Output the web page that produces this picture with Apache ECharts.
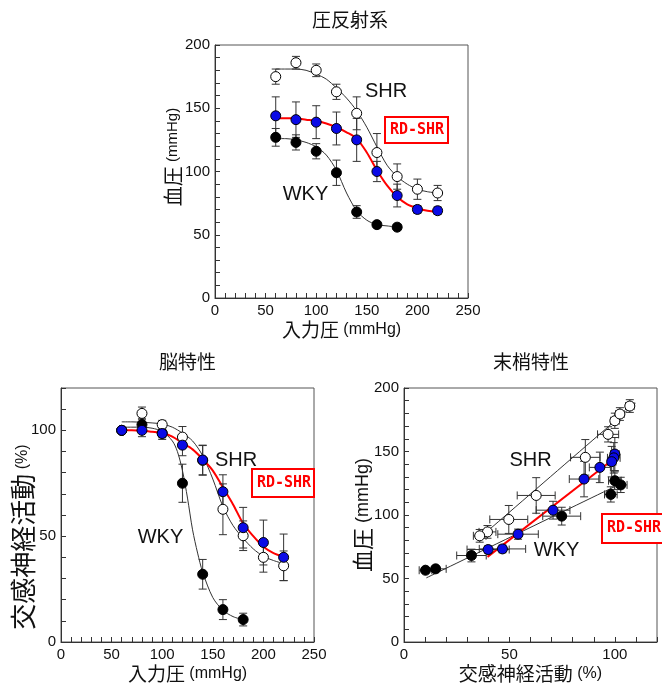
<!DOCTYPE html>
<html><head><meta charset="utf-8">
<script src="https://cdn.jsdelivr.net/npm/echarts@6/dist/echarts.min.js"></script>
<style>html,body{margin:0;padding:0;background:#fff}#main{width:662px;height:686px}</style>
</head><body><div id="main"></div>
<script>
// ---------- data ----------
const pressure = [60, 80, 100, 120, 140, 160, 180, 200, 220];
const pressureWKY = [60, 80, 100, 120, 140, 160, 180];
const pressureTicks = [0, 50, 100, 150, 200, 250];
const bpTicks = [0, 50, 100, 150, 200];
const snaTicks = [0, 50, 100];
const periTicks = [0, 50, 100];

// 圧反射系 (blood pressure vs input pressure)
const bpSHR = [175, 186, 180, 163, 146, 115, 96, 86, 83];
const bpSHRErr = [6, 5, 5, 6, 13, 15, 10, 8, 6];
const bpRD = [144, 141, 139, 134, 125, 100, 81, 70, 69];
const bpRDErr = [15, 14, 13, 13, 17, 8, 9, 3, 3];
const bpWKY = [127, 123, 116, 99, 68, 58, 56];
const bpWKYErr = [7, 6, 6, 10, 5, 2, 2];
const fitPressure = [60, 70, 80, 90, 100, 110, 120, 130, 140, 150, 160, 170, 180, 190, 200, 210, 220];
const bpFitSHR = [181, 181, 181, 180, 177, 173, 166, 158, 148, 135, 119.5, 105, 96, 90, 86, 84, 83];
const bpFitRD = [142, 142, 142, 141, 140, 138, 135, 131, 126, 115, 101, 89, 80, 74, 71, 69, 68];
const fitPressureWKY = [60, 70, 80, 90, 100, 110, 120, 130, 140, 150, 160, 170, 180];
const bpFitWKY = [126, 126, 125, 123, 119.5, 113, 101, 83, 69, 61.5, 58, 57, 56];

// 脳特性 (sympathetic activity vs input pressure)
const snaSHR = [100, 108, 102.7, 96.8, 85.8, 62.7, 50.2, 40, 36];
const snaSHRErr = [0, 3, 2, 5, 7, 12, 7, 7, 7];
const snaRD = [100, 100, 98.5, 93, 86, 71, 54, 47, 40];
const snaRDErr = [0, 3, 2, 5, 7, 8, 9.6, 10.6, 11];
const snaWKY = [100, 102.7, 98.7, 75, 32, 15.3, 10.6];
const snaWKYErr = [0, 3, 3, 9, 7, 4.7, 3];
const snaFitSHR = [104, 104, 103.8, 103.5, 103, 101.5, 98.7, 95, 88, 77, 64, 55, 49, 44, 40.5, 38.5, 37];
const snaFitRD = [100, 100, 99.8, 99.3, 98.7, 97, 94, 91, 86.4, 81, 73, 65, 56, 50, 45, 42, 40.3];
const fitPressureWKY2 = [60, 70, 80, 90, 100, 110, 115, 120, 125, 130, 135, 140, 150, 160, 170, 180];
const snaFitWKY = [101.5, 101.5, 101.5, 101, 99.5, 95, 90, 81, 68, 53, 42, 33, 21, 15, 12, 10.5];

// 末梢特性 (blood pressure vs sympathetic activity)
const periSHRsna = [100, 107.1, 102.4, 96.8, 86, 62.7, 49.7, 39.6, 35.9];
const periSHRbp = [174.2, 185.8, 179.5, 163.5, 145.4, 115.4, 96.5, 86.7, 83.6];
const periSHRsnaErr = [2, 2, 2, 5, 7, 9, 9, 4, 3];
const periSHRbpErr = [6, 5, 5, 6, 14, 14, 11, 5, 5];
const periRDsna = [100, 99.5, 98.5, 92.9, 85.4, 70.7, 54.1, 46.7, 39.9];
const periRDbp = [148, 145, 142, 137.5, 128.3, 103.8, 84.9, 73.3, 72.8];
const periRDsnaErr = [2, 3, 2, 5, 7, 8, 9.6, 11, 10];
const periRDbpErr = [13, 12, 12, 12, 14, 7, 4, 3, 3];
const periWKYsna = [100, 102.8, 98.1, 74.8, 32, 15, 10.2];
const periWKYbp = [127, 123.7, 116.2, 99.1, 68.1, 57.6, 56.5];
const periWKYsnaErr = [3, 3, 3, 9, 7, 5, 3];
const periWKYbpErr = [7, 6, 6, 7, 5, 2, 2];
const periFitSHRsna = [35.9, 109.8];
const periFitSHRbp = [82, 188];
const periFitRDsna = [39.6, 100.8];
const periFitRDbp = [67, 145.8];
const periFitWKYsna = [10.6, 103.2];
const periFitWKYbp = [50.5, 125];

// ---------- helpers ----------
const CJK = '"Noto Sans CJK JP", sans-serif';
const LAT = '"Liberation Sans", Arial, sans-serif';
const zip = (xs, ys) => xs.map((x, i) => [x, ys[i]]);
const zip4 = (xs, ys, xe, ye) => xs.map((x, i) => [x, ys[i], xe ? xe[i] : 0, ye ? ye[i] : 0]);

function axisCfg(gi, max, ticks, extra) {
  return Object.assign({
    type: 'value', gridIndex: gi, min: 0, max: max, interval: 10,
    axisLine: { show: true, lineStyle: { color: '#333', width: 1 } },
    axisTick: { show: true, inside: true, length: 5, lineStyle: { color: '#333' } },
    axisLabel: { show: true, margin: 5, fontSize: 15, fontFamily: LAT, color: '#111',
      formatter: v => ticks.includes(v) ? String(v) : '' },
    splitLine: { show: false }
  }, extra || {});
}
function xName(c, u) {
  return {
    name: '{c|' + c + '}{u|' + u + '}', nameLocation: 'middle', nameGap: 22,
    nameTextStyle: { rich: {
      c: { fontSize: 19, fontFamily: CJK, color: '#111' },
      u: { fontSize: 16, fontFamily: LAT, color: '#111' } } }
  };
}
function fitLine(gi, xs, ys, color, width) {
  return { type: 'line', xAxisIndex: gi, yAxisIndex: gi, data: zip(xs, ys), symbol: 'none',
    smooth: 0.3, z: 2, silent: true,
    lineStyle: { color: color, width: width } };
}
function dots(gi, xs, ys, fill) {
  return { type: 'scatter', xAxisIndex: gi, yAxisIndex: gi, data: zip(xs, ys), symbol: 'circle',
    symbolSize: 10, z: 5, silent: true,
    itemStyle: { color: fill, borderColor: '#000', borderWidth: 1, opacity: 1 } };
}
function errBars(gi, pts) {
  return { type: 'custom', xAxisIndex: gi, yAxisIndex: gi, z: 3, silent: true, data: pts,
    renderItem: function (params, api) {
      const x = api.value(0), y = api.value(1), xe = api.value(2), ye = api.value(3);
      const st = { stroke: '#333', lineWidth: 1 };
      const cap = 4, ch = [];
      if (ye > 0) {
        const a = api.coord([x, y - ye]), b = api.coord([x, y + ye]);
        ch.push({ type: 'line', shape: { x1: a[0], y1: a[1], x2: b[0], y2: b[1] }, style: st });
        ch.push({ type: 'line', shape: { x1: a[0] - cap, y1: a[1], x2: a[0] + cap, y2: a[1] }, style: st });
        ch.push({ type: 'line', shape: { x1: b[0] - cap, y1: b[1], x2: b[0] + cap, y2: b[1] }, style: st });
      }
      if (xe > 0) {
        const a = api.coord([x - xe, y]), b = api.coord([x + xe, y]);
        ch.push({ type: 'line', shape: { x1: a[0], y1: a[1], x2: b[0], y2: b[1] }, style: st });
        ch.push({ type: 'line', shape: { x1: a[0], y1: a[1] - cap, x2: a[0], y2: a[1] + cap }, style: st });
        ch.push({ type: 'line', shape: { x1: b[0], y1: b[1] - cap, x2: b[0], y2: b[1] + cap }, style: st });
      }
      return { type: 'group', children: ch };
    } };
}
function txt(x, y, text, font, fill, rot) {
  return { type: 'text', x: x, y: y, rotation: rot || 0, z: 10,
    style: { text: text, font: font, fill: fill || '#111', align: 'center', verticalAlign: 'middle' } };
}
function richTxt(x, y, text, rich, rot) {
  return { type: 'text', x: x, y: y, rotation: rot || 0, z: 10,
    style: { text: text, rich: rich, fill: '#111', align: 'center', verticalAlign: 'middle' } };
}
function rdBox(x, y, w, h) {
  return [
    { type: 'rect', z: 10, shape: { x: x, y: y, width: w, height: h },
      style: { fill: '#fff', stroke: '#ff0000', lineWidth: 2 } },
    { type: 'text', z: 11, x: x + 32, y: y + h / 2,
      style: { text: 'RD-SHR', font: 'bold 15px "DejaVu Sans Mono", monospace', fill: '#ff0000',
        align: 'center', verticalAlign: 'middle' } }
  ];
}
const BLUE = '#0a0ae6';
const LBL = '20px "Liberation Sans", Arial, sans-serif';
const TTL = '19px "Noto Sans CJK JP", sans-serif';

const option = {
  animation: false,
  backgroundColor: '#fff',
  grid: [
    { left: 215, top: 45, width: 253, height: 253, show: true, borderColor: '#555', borderWidth: 1, backgroundColor: 'transparent' },
    { left: 61, top: 388, width: 253, height: 254, show: true, borderColor: '#555', borderWidth: 1, backgroundColor: 'transparent' },
    { left: 404, top: 388, width: 253, height: 254, show: true, borderColor: '#555', borderWidth: 1, backgroundColor: 'transparent' }
  ],
  xAxis: [
    axisCfg(0, 250, pressureTicks, xName('入力圧', ' (mmHg)')),
    axisCfg(1, 250, pressureTicks, xName('入力圧', ' (mmHg)')),
    axisCfg(2, 120, periTicks, xName('交感神経活動', ' (%)'))
  ],
  yAxis: [
    axisCfg(0, 200, bpTicks),
    axisCfg(1, 120, snaTicks),
    axisCfg(2, 200, bpTicks)
  ],
  series: [
    // panel 1
    fitLine(0, fitPressure, bpFitSHR, '#333', 1),
    fitLine(0, fitPressureWKY, bpFitWKY, '#333', 1),
    fitLine(0, fitPressure, bpFitRD, '#ff0000', 2),
    errBars(0, zip4(pressure, bpSHR, null, bpSHRErr)),
    errBars(0, zip4(pressure, bpRD, null, bpRDErr)),
    errBars(0, zip4(pressureWKY, bpWKY, null, bpWKYErr)),
    dots(0, pressure, bpSHR, '#fff'),
    dots(0, pressureWKY, bpWKY, '#000'),
    dots(0, pressure, bpRD, BLUE),
    // panel 2
    fitLine(1, fitPressure, snaFitSHR, '#333', 1),
    fitLine(1, fitPressureWKY2, snaFitWKY, '#333', 1),
    fitLine(1, fitPressure, snaFitRD, '#ff0000', 2),
    errBars(1, zip4(pressure, snaSHR, null, snaSHRErr)),
    errBars(1, zip4(pressure, snaRD, null, snaRDErr)),
    errBars(1, zip4(pressureWKY, snaWKY, null, snaWKYErr)),
    dots(1, pressureWKY, snaWKY, '#000'),
    dots(1, pressure, snaSHR, '#fff'),
    dots(1, pressure, snaRD, BLUE),
    // panel 3
    fitLine(2, periFitSHRsna, periFitSHRbp, '#333', 1),
    fitLine(2, periFitWKYsna, periFitWKYbp, '#333', 1),
    fitLine(2, periFitRDsna, periFitRDbp, '#ff0000', 2),
    errBars(2, zip4(periSHRsna, periSHRbp, periSHRsnaErr, periSHRbpErr)),
    errBars(2, zip4(periRDsna, periRDbp, periRDsnaErr, periRDbpErr)),
    errBars(2, zip4(periWKYsna, periWKYbp, periWKYsnaErr, periWKYbpErr)),
    dots(2, periSHRsna, periSHRbp, '#fff'),
    dots(2, periWKYsna, periWKYbp, '#000'),
    dots(2, periRDsna, periRDbp, BLUE)
  ],
  graphic: [
    txt(350, 20, '圧反射系', TTL),
    txt(187.5, 361.5, '脳特性', TTL),
    txt(531, 361.5, '末梢特性', TTL),
    richTxt(173, 157, '{c|血圧}{u| (mmHg)}', {
      c: { fontSize: 20, fontFamily: CJK, fill: '#111' }, u: { fontSize: 15, fontFamily: LAT, fill: '#111' } }, Math.PI / 2),
    richTxt(23, 537, '{c|交感神経活動}{u| (%)}', {
      c: { fontSize: 26, fontFamily: CJK, fill: '#111' }, u: { fontSize: 16, fontFamily: LAT, fill: '#111' } }, Math.PI / 2),
    richTxt(363, 515, '{c|血圧}{u| (mmHg)}', {
      c: { fontSize: 22, fontFamily: CJK, fill: '#111' }, u: { fontSize: 18, fontFamily: LAT, fill: '#111' } }, Math.PI / 2),
    txt(386, 91.5, 'SHR', LBL),
    txt(305.5, 194.5, 'WKY', LBL),
    txt(236, 460, 'SHR', LBL),
    txt(160.5, 537.5, 'WKY', LBL),
    txt(530.5, 460.5, 'SHR', LBL),
    txt(556.5, 550.5, 'WKY', LBL)
  ].concat(rdBox(385, 117, 63, 26), rdBox(252, 469, 62, 28), rdBox(602, 514, 70, 29))
};
const chart = echarts.init(document.getElementById('main'), null, { renderer: 'canvas' });
chart.setOption(option);
</script></body></html>
